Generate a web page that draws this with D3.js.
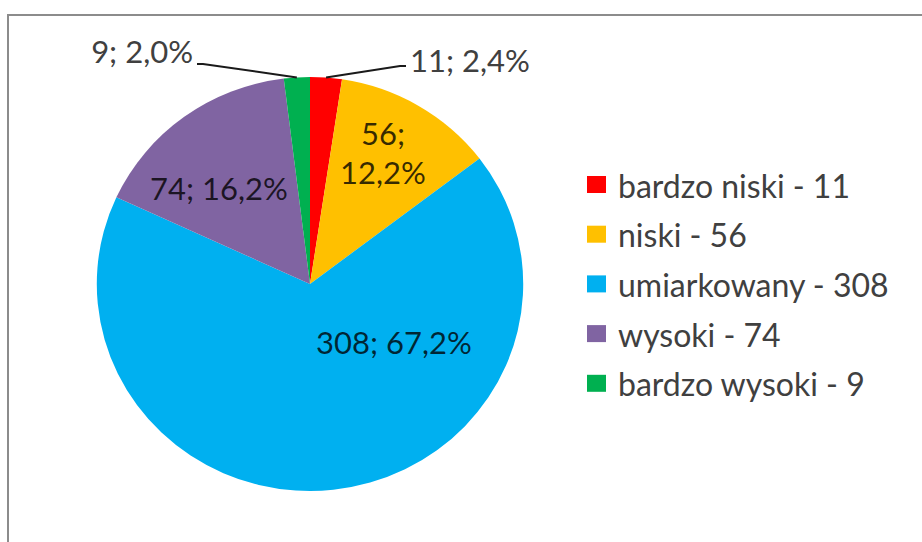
<!DOCTYPE html>
<html><head><meta charset="utf-8">
<script src="https://cdn.jsdelivr.net/npm/d3@7"></script>
<style>html,body{margin:0;padding:0;background:#fff;} svg{display:block;}</style>
</head><body>
<svg id="c" width="922" height="542"></svg>
<script>
const categories = ["bardzo niski", "niski", "umiarkowany", "wysoki", "bardzo wysoki"];
const values = [11, 56, 308, 74, 9];
const percentLabels = ["2,4%", "12,2%", "67,2%", "16,2%", "2,0%"];

const colors = ["#FF0000", "#FFC000", "#00B0F0", "#8064A2", "#00B050"];
const FONT = "Lato, 'Open Sans', sans-serif";
const FS = 31;
const LFS = 32;

const svg = d3.select("#c");
svg.append("rect").attr("x", 8).attr("y", 15).attr("width", 1000).attr("height", 600)
  .attr("fill", "#fff").attr("stroke", "#8c8c8c").attr("stroke-width", 2);

const cx = 310, cy = 284, r = 207, sx = 1.03;
const pie = d3.pie().sort(null).value(d => d);
const arcs = pie(values);
const arc = d3.arc().innerRadius(0).outerRadius(r);

const g = svg.append("g").attr("transform", `translate(${cx},${cy})`);
g.append("g").attr("transform", `scale(${sx},1)`)
  .selectAll("path").data(arcs).join("path")
  .attr("d", arc).attr("fill", (d, i) => colors[i]);

const labelText = values.map((v, i) => `${v}; ${percentLabels[i]}`);
const layout = [
  {x: 410, y: 60, anchor: "start", outside: true, lx: 406, ly: 66},
  {x: 383, y: 133, anchor: "middle", split: true},
  {x: 394, y: 342, anchor: "middle"},
  {x: 219, y: 188, anchor: "middle"},
  {x: 193, y: 51, anchor: "end", outside: true, lx: 197, ly: 64}
];

arcs.forEach((a, i) => {
  const L = layout[i];
  const t = svg.append("text").attr("font-family", FONT).attr("font-size", FS)
    .attr("text-anchor", L.anchor).attr("dominant-baseline", "central");
  if (L.outside) {
    t.attr("fill", "#404040");
    const mid = (a.startAngle + a.endAngle) / 2;
    const px = cx + r * sx * Math.sin(mid), py = cy - r * Math.cos(mid);
    const dir = L.anchor === "start" ? -1 : 1;
    svg.append("polyline")
      .attr("points", `${L.lx},${L.ly} ${L.lx + dir * 6},${L.ly} ${px},${py}`)
      .attr("fill", "none").attr("stroke", "#1a1a1a").attr("stroke-width", 2);
  } else {
    t.attr("fill", "#000").attr("fill-opacity", 0.78);
  }
  if (L.split) {
    t.append("tspan").attr("x", L.x).attr("y", L.y).text(`${values[i]};`);
    t.append("tspan").attr("x", L.x).attr("y", L.y + 39).text(percentLabels[i]);
  } else {
    t.attr("x", L.x).attr("y", L.y).text(labelText[i]);
  }
});

const lg = svg.append("g");
categories.forEach((c, i) => {
  const y = 185 + i * 49.7;
  lg.append("rect").attr("x", 587).attr("y", y - 9).attr("width", 19).attr("height", 17)
    .attr("fill", colors[i]);
  lg.append("text").attr("x", 618).attr("y", y).attr("dominant-baseline", "central")
    .attr("font-family", FONT).attr("font-size", LFS).attr("fill", "#404040")
    .text(`${c} - ${values[i]}`);
});
</script>
</body></html>
